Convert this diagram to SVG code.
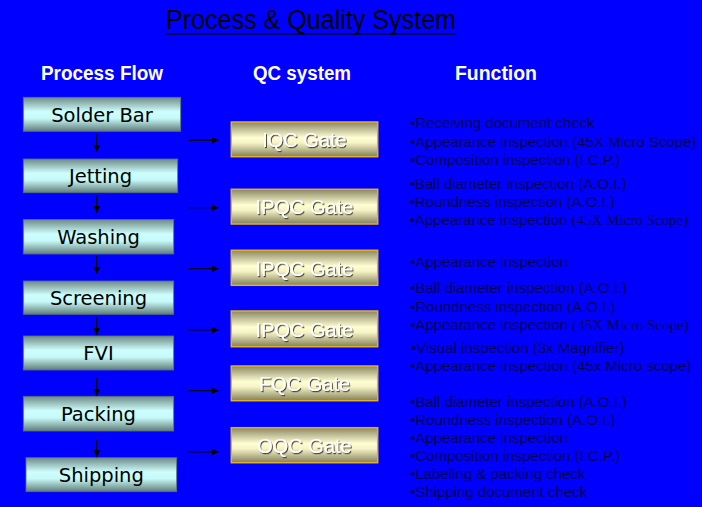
<svg xmlns="http://www.w3.org/2000/svg" width="702" height="507" viewBox="0 0 702 507">
<defs>
<linearGradient id="gProc" x1="0" y1="0" x2="0" y2="1">
<stop offset="0" stop-color="#6d8a85"/>
<stop offset="0.42" stop-color="#cdfefd"/>
<stop offset="0.62" stop-color="#c6f9f8"/>
<stop offset="1" stop-color="#607c77"/>
</linearGradient>
<linearGradient id="gGate" x1="0" y1="0" x2="0" y2="1">
<stop offset="0" stop-color="#8a8763"/>
<stop offset="0.45" stop-color="#fffed2"/>
<stop offset="0.6" stop-color="#f6f4c6"/>
<stop offset="1" stop-color="#827f59"/>
</linearGradient>
<filter id="sh" x="-10%" y="-20%" width="130%" height="150%">
<feDropShadow dx="1" dy="1.2" stdDeviation="0.4" flood-color="#3a3820" flood-opacity="0.9"/>
</filter>
<marker id="ah" viewBox="0 0 10 10" refX="10" refY="5" markerWidth="7" markerHeight="7" markerUnits="userSpaceOnUse" orient="auto">
<path d="M0,0 L10,5 L0,10 z" fill="#000"/>
</marker>
</defs>
<style>
.proc rect{fill:url(#gProc);stroke:#587470;stroke-width:0.8}
.proc text{font-family:"DejaVu Sans",sans-serif;font-size:19.5px;fill:#000;text-anchor:middle}
.gate rect{fill:url(#gGate);stroke:#e2b21c;stroke-width:1.5}
.gate text{font-family:"Liberation Sans",Arial,sans-serif;font-size:20px;fill:#fff;text-anchor:middle;filter:url(#sh)}
.hdr{font-family:"Liberation Sans",Arial,sans-serif;font-size:20px;font-weight:bold;fill:#fff}
.fn{font-family:"Liberation Sans",Arial,sans-serif;font-size:15px;fill:#000055}
.ser{font-family:"Liberation Serif","Times New Roman",serif}
.conn line{stroke:#000;stroke-width:1.1;marker-end:url(#ah)}
</style>
<rect x="0" y="0" width="702" height="507" fill="#0000ff"/>
<g id="title">
<text x="166" y="29" font-family="Liberation Sans, Arial, sans-serif" font-size="27" fill="#000" textLength="290" lengthAdjust="spacingAndGlyphs">Process &amp; Quality System</text>
<rect x="166" y="33" width="290" height="1.6" fill="#000"/>
</g>
<g id="headers">
<text class="hdr" x="41" y="80" textLength="122" lengthAdjust="spacingAndGlyphs">Process Flow</text>
<text class="hdr" x="253" y="80" textLength="98" lengthAdjust="spacingAndGlyphs">QC system</text>
<text class="hdr" x="455" y="80" textLength="82" lengthAdjust="spacingAndGlyphs">Function</text>
</g>
<g id="p-solder" class="proc"><rect x="23.3" y="97.3" width="157.4" height="34"/><text x="102" y="121.5">Solder Bar</text></g>
<g id="p-jetting" class="proc"><rect x="23.3" y="159" width="154.4" height="33.7"/><text x="100.5" y="183">Jetting</text></g>
<g id="p-washing" class="proc"><rect x="23.3" y="219.5" width="150.4" height="34.5"/><text x="98.5" y="243.8">Washing</text></g>
<g id="p-screening" class="proc"><rect x="23.3" y="281" width="150.4" height="33.3"/><text x="98.5" y="304.7">Screening</text></g>
<g id="p-fvi" class="proc"><rect x="23.3" y="336" width="150.4" height="34"/><text x="98.5" y="360">FVI</text></g>
<g id="p-packing" class="proc"><rect x="23.3" y="396.3" width="150.4" height="34.7"/><text x="98.5" y="420.7">Packing</text></g>
<g id="p-shipping" class="proc"><rect x="26" y="457.7" width="150.7" height="34"/><text x="101.3" y="481.7">Shipping</text></g>
<g id="g-iqc" class="gate"><rect x="231.3" y="122" width="146.4" height="34.7"/><text x="304.5" y="147">IQC Gate</text></g>
<g id="g-ipqc1" class="gate"><rect x="231.3" y="189.3" width="146.4" height="34.7"/><text x="304.5" y="214.3">IPQC Gate</text></g>
<g id="g-ipqc2" class="gate"><rect x="231.3" y="250.3" width="146.4" height="35"/><text x="304.5" y="275.5">IPQC Gate</text></g>
<g id="g-ipqc3" class="gate"><rect x="231.3" y="311" width="146.4" height="35.7"/><text x="304.5" y="336.5">IPQC Gate</text></g>
<g id="g-fqc" class="gate"><rect x="231.3" y="366" width="146.4" height="34.7"/><text x="304.5" y="391">FQC Gate</text></g>
<g id="g-oqc" class="gate"><rect x="231.3" y="427.7" width="146.4" height="35"/><text x="304.5" y="452.8">OQC Gate</text></g>
<g id="connectors" class="conn">
<line x1="96.7" y1="134.3" x2="96.7" y2="152"/>
<line x1="96.7" y1="195" x2="96.7" y2="213"/>
<line x1="96.7" y1="256" x2="96.7" y2="274"/>
<line x1="96.7" y1="317" x2="96.7" y2="335"/>
<line x1="96.7" y1="377.7" x2="96.7" y2="396"/>
<line x1="96.7" y1="439.3" x2="96.7" y2="457.3"/>
<line x1="188.3" y1="140.3" x2="218.5" y2="140.3"/>
<line x1="188.3" y1="207.7" x2="218.5" y2="207.7"/>
<line x1="188.3" y1="268.7" x2="218.5" y2="268.7"/>
<line x1="188.3" y1="330" x2="218.5" y2="330"/>
<line x1="188.3" y1="390.7" x2="218.5" y2="390.7"/>
<line x1="188.3" y1="452" x2="218.5" y2="452"/>
</g>
<g id="functions" class="fn">
<text x="410" y="128.3">•Receiving document check</text>
<text x="410" y="146.7">•Appearance inspection (45X Micro Scope)</text>
<text x="410" y="165">•Composition inspection (I.C.P.)</text>
<text x="409.5" y="189.3">•Ball diameter inspection (A.O.I.)</text>
<text x="409.5" y="206.7">•Roundness inspection (A.O.I.)</text>
<text x="409.5" y="225">•Appearance inspection <tspan class="ser">(45X Micro Scope)</tspan></text>
<text x="410" y="267.3">•Appearance inspection</text>
<text x="410" y="293.3">•Ball diameter inspection (A.O.I.)</text>
<text x="410" y="311.7">•Roundness inspection (A.O.I.)</text>
<text x="410" y="330">•Appearance inspection <tspan class="ser">(45X Micro Scope)</tspan></text>
<text x="411" y="353.3">•Visual inspection (3x Magnifier)</text>
<text x="410" y="370.7">•Appearance inspection (45x Micro scope)</text>
<text x="410" y="406.7">•Ball diameter inspection (A.O.I.)</text>
<text x="410" y="425">•Roundness inspection (A.O.I.)</text>
<text x="410" y="442.7">•Appearance inspection</text>
<text x="410" y="460.7">•Composition inspection (I.C.P.)</text>
<text x="410" y="479">•Labeling &amp; packing check</text>
<text x="410" y="496.7">•Shipping document check</text>
</g>
</svg>
